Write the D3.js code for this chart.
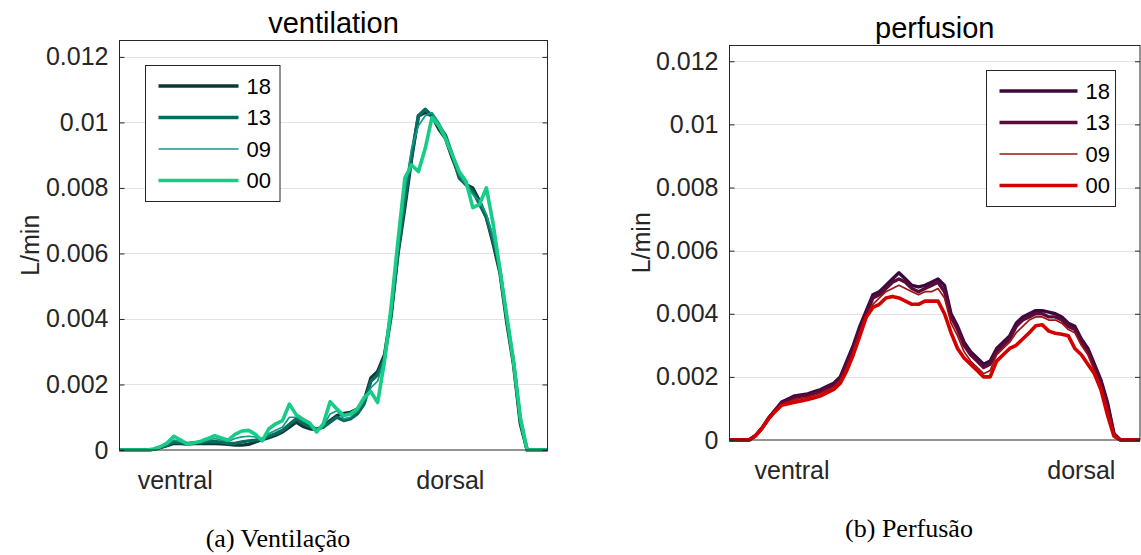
<!DOCTYPE html>
<head>
<meta charset="utf-8">
<style>
body { margin: 0; background: #fff; }
text { font-family: "Liberation Sans", Arial, sans-serif; fill: #262626; }
.grid line { stroke: #e3e3e3; stroke-width: 1; }
.box { fill: none; stroke: #262626; stroke-width: 1; }
.caption { font-family: "Liberation Serif", "Times New Roman", serif; fill: #000; }
</style>
</head>
<body>
<svg width="1141" height="555"></svg>
<script src="https://d3js.org/d3.v7.min.js"></script>
<script>
// series names, same order for both panels
var names = ["18", "13", "09", "00"];

// y ticks
var yTicks = [0, 0.002, 0.004, 0.006, 0.008, 0.01, 0.012];
var yTickLabels = ["0", "0.002", "0.004", "0.006", "0.008", "0.01", "0.012"];

// x labels (position along the 64-sample profile)
var xLabels = ["ventral", "dorsal"];
var ventXTicks = [8.2, 48.7];
var perfXTicks = [9.6, 54];

// ventilation profiles
var vent18 = [0,0,0,0,0,0.00002,0.00007,0.00013,0.0002,0.0002,0.00018,0.0002,0.0002,0.0002,0.0002,0.00019,
  0.00017,0.00015,0.00015,0.00017,0.00025,0.00032,0.00038,0.00045,0.00055,0.0007,0.00085,0.00072,0.00065,0.00062,0.00072,0.0009,
  0.00105,0.00112,0.00115,0.00125,0.0015,0.0022,0.0024,0.0029,0.0042,0.006,0.0074,0.0089,0.0102,0.0103,0.0102,0.0098,
  0.0095,0.0089,0.0084,0.0081,0.008,0.0076,0.0071,0.0063,0.0054,0.0039,0.0026,0.0008,0,0,0,0];
var vent13 = [0,0,0,0,0,0.00002,0.00008,0.00015,0.00024,0.00022,0.0002,0.00022,0.00023,0.00025,0.00026,0.00024,
  0.0002,0.0002,0.00025,0.00028,0.0003,0.00033,0.00042,0.0005,0.0006,0.00078,0.00095,0.00082,0.00072,0.00064,0.0007,0.00085,
  0.001,0.0009,0.00095,0.0011,0.0014,0.0021,0.0023,0.0028,0.0041,0.0061,0.0076,0.009,0.0102,0.0104,0.0102,0.0099,
  0.0096,0.009,0.0083,0.0081,0.0079,0.0075,0.0071,0.0064,0.0055,0.004,0.0027,0.0009,0,0,0,0];
var vent09 = [0,0,0,0,0,0.00003,0.0001,0.00018,0.0003,0.00025,0.0002,0.00022,0.00025,0.0003,0.00035,0.0003,
  0.00026,0.00035,0.0004,0.00042,0.0004,0.0003,0.0005,0.0006,0.0007,0.001,0.001,0.0009,0.0008,0.00062,0.00072,0.0011,
  0.0012,0.00095,0.001,0.0012,0.0015,0.0019,0.0021,0.0028,0.0042,0.0062,0.0079,0.0092,0.0099,0.0102,0.0103,0.01,
  0.0096,0.009,0.0084,0.0081,0.0078,0.0076,0.0072,0.0065,0.0055,0.004,0.0026,0.0008,0,0,0,0];
var vent00 = [0,0,0,0,0,0.00003,0.0001,0.00021,0.00042,0.0003,0.00018,0.00022,0.00027,0.00035,0.00044,0.00037,
  0.0003,0.00048,0.00058,0.0006,0.00048,0.00028,0.00065,0.0008,0.0009,0.0014,0.00108,0.00094,0.00082,0.00055,0.0008,0.00147,
  0.00125,0.00105,0.0011,0.00125,0.0016,0.00178,0.00145,0.0027,0.0044,0.0064,0.0083,0.0087,0.0085,0.0092,0.01015,0.0099,
  0.0095,0.009,0.0085,0.0082,0.0074,0.0075,0.008,0.0069,0.0055,0.0041,0.0027,0.001,0,0,0,0];

// perfusion profiles
var perf18 = [0,0,0,0,0.00015,0.00038,0.0007,0.00095,0.0012,0.0013,0.0014,0.00143,0.00146,0.00153,0.0016,0.0017,
  0.0018,0.002,0.0025,0.003,0.0036,0.0041,0.0046,0.0047,0.0049,0.0051,0.0053,0.0051,0.0049,0.00485,0.0049,0.005,
  0.0051,0.0049,0.004,0.0036,0.0031,0.0028,0.0026,0.0024,0.0025,0.0029,0.0031,0.0033,0.0037,0.0039,0.004,0.0041,
  0.0041,0.00405,0.004,0.0039,0.0037,0.0036,0.0032,0.0029,0.0024,0.0019,0.0012,0.0002,0,0,0,0];
var perf13 = [0,0,0,0,0.00014,0.00037,0.00068,0.00093,0.00117,0.00126,0.00135,0.00139,0.00142,0.00148,0.00155,0.00165,
  0.00175,0.00195,0.0024,0.0029,0.0035,0.004,0.0045,0.0046,0.0048,0.005,0.0051,0.005,0.0048,0.0047,0.0048,0.0049,
  0.005,0.0047,0.0039,0.0035,0.003,0.0027,0.0025,0.0023,0.0024,0.0028,0.003,0.0032,0.0036,0.0038,0.0039,0.004,
  0.004,0.0039,0.0039,0.0038,0.0036,0.0035,0.0031,0.0028,0.0023,0.0018,0.0011,0.00018,0,0,0,0];
var perf09 = [0,0,0,0,0.00013,0.00036,0.00066,0.0009,0.00113,0.0012,0.00128,0.00132,0.00136,0.00142,0.00148,0.00158,
  0.00168,0.0019,0.0023,0.0028,0.0034,0.0039,0.0043,0.0045,0.0047,0.0048,0.0049,0.0048,0.0047,0.0046,0.0047,0.0047,
  0.0048,0.0045,0.0037,0.0033,0.0028,0.0025,0.0023,0.0021,0.0022,0.0027,0.0029,0.0031,0.0034,0.0036,0.0038,0.0039,
  0.0039,0.0038,0.0038,0.0037,0.0035,0.0034,0.003,0.0027,0.0022,0.0017,0.001,0.00015,0,0,0,0];
var perf00 = [0,0,0,0,0.00013,0.00038,0.00067,0.0009,0.0011,0.00115,0.0012,0.00124,0.00128,0.00134,0.0014,0.0015,
  0.0016,0.0018,0.0022,0.0027,0.0033,0.0039,0.0042,0.0043,0.0045,0.00455,0.0045,0.0044,0.0043,0.0043,0.0044,0.0044,
  0.0044,0.004,0.0034,0.0029,0.0026,0.0024,0.0022,0.002,0.002,0.0025,0.0027,0.0029,0.003,0.0032,0.0034,0.00362,
  0.00365,0.00345,0.00338,0.00335,0.0033,0.0029,0.0027,0.0024,0.0021,0.0016,0.0008,0.00012,0,0,0,0];

var ventColors = ["#0b3a35", "#0a6a60", "#109a88", "#17cc86"];
var perfColors = ["#3a0a3e", "#5c0a3a", "#9c1414", "#d40000"];
var widths = [3.4, 3.4, 1.7, 3.6];

var svg = d3.select("svg");

function panel(o) {
  var x = d3.scaleLinear().domain([0, 63]).range([o.left, o.right]);
  var y = d3.scaleLinear().domain([0, 0.0125]).range([o.bottom, o.top]);
  var g = svg.append("g");

  // grid
  g.append("g").attr("class", "grid")
    .selectAll("line").data(yTicks.slice(1)).enter().append("line")
    .attr("x1", o.left).attr("x2", o.right)
    .attr("y1", function(d) { return Math.round(y(d)) + 0.5; })
    .attr("y2", function(d) { return Math.round(y(d)) + 0.5; });

  // lines, 00 drawn last
  var line = d3.line().x(function(d, i) { return x(i); }).y(function(d) { return y(d); });
  g.selectAll("path.series").data(o.series).enter().append("path")
    .attr("class", "series")
    .attr("d", line)
    .attr("fill", "none")
    .attr("stroke", function(d, i) { return o.colors[i]; })
    .attr("stroke-width", function(d, i) { return widths[i]; })
    .attr("stroke-linejoin", "round");

  // y axes left and right, ticks inward
  var ya = g.append("g").attr("transform", "translate(" + o.left + ",0)")
    .call(d3.axisLeft(y).tickValues(yTicks).tickSizeInner(-5).tickSizeOuter(0).tickPadding(11)
      .tickFormat(function(d, i) { return yTickLabels[i]; }));
  ya.select(".domain").remove();
  ya.selectAll("line").attr("stroke", "#262626");
  ya.selectAll("text").attr("font-size", 25).attr("fill", "#262626")
    .attr("font-family", "Liberation Sans, Arial, sans-serif");
  var yr = g.append("g").attr("transform", "translate(" + o.right + ",0)")
    .call(d3.axisRight(y).tickValues(yTicks).tickSizeInner(-5).tickSizeOuter(0).tickFormat(""));
  yr.select(".domain").remove();
  yr.selectAll("line").attr("stroke", "#262626");

  // box
  g.append("rect").attr("class", "box")
    .attr("x", o.left).attr("y", o.top)
    .attr("width", o.right - o.left).attr("height", o.bottom - o.top);

  // x labels
  g.selectAll("text.xl").data(o.xTicks).enter().append("text")
    .attr("class", "xl")
    .attr("x", function(d) { return x(d); })
    .attr("y", o.bottom + 39)
    .attr("text-anchor", "middle").attr("font-size", 25)
    .text(function(d, i) { return xLabels[i]; });

  // title
  g.append("text").attr("x", (o.left + o.right) / 2).attr("y", o.top - 8)
    .attr("text-anchor", "middle").attr("font-size", 29).style("fill", "#000")
    .text(o.title);

  // y label
  g.append("text")
    .attr("transform", "translate(" + o.ylabX + "," + (o.top + o.bottom) / 2 + ") rotate(-90)")
    .attr("text-anchor", "middle").attr("dy", "0.35em").attr("font-size", 25)
    .text("L/min");

  // legend
  var lg = g.append("g").attr("transform", "translate(" + o.legX + "," + o.legY + ")");
  lg.append("rect").attr("width", o.legW).attr("height", 136)
    .attr("fill", "#fff").attr("stroke", "#262626").attr("stroke-width", 1);
  var row = lg.selectAll("g.row").data(names).enter().append("g").attr("class", "row")
    .attr("transform", function(d, i) { return "translate(0," + (20.5 + i * 31.5) + ")"; });
  row.append("line").attr("x1", 13).attr("x2", o.legLine)
    .attr("stroke", function(d, i) { return o.colors[i]; })
    .attr("stroke-width", function(d, i) { return widths[i]; });
  row.append("text").attr("x", o.legLine + 8).attr("dy", "0.35em")
    .attr("font-size", 22).style("fill", "#000")
    .text(function(d) { return d; });

  // caption
  svg.append("text").attr("class", "caption")
    .attr("x", o.capX).attr("y", o.capY)
    .attr("text-anchor", "middle").attr("font-size", 26)
    .text(o.caption);
}

panel({ left: 119.5, right: 547.5, top: 40.5, bottom: 450, series: [vent18, vent13, vent09, vent00],
  colors: ventColors, xTicks: ventXTicks, title: "ventilation", ylabX: 30,
  legX: 145.5, legY: 65.5, legW: 134.5, legLine: 93, caption: "(a) Ventilação", capX: 278, capY: 547 });

panel({ left: 729.5, right: 1140, top: 45.5, bottom: 440, series: [perf18, perf13, perf09, perf00],
  colors: perfColors, xTicks: perfXTicks, title: "perfusion", ylabX: 641,
  legX: 986.5, legY: 70.5, legW: 129, legLine: 91, caption: "(b) Perfusão", capX: 909, capY: 537 });
</script>
</body>
